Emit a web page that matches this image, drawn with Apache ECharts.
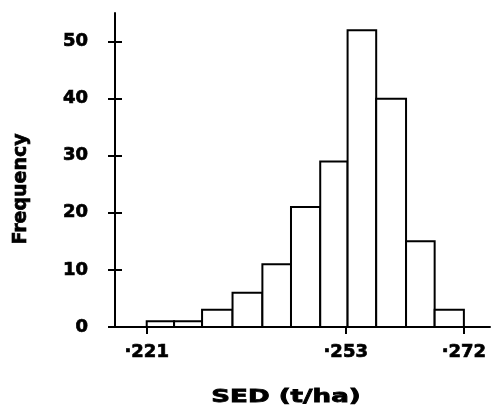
<!DOCTYPE html>
<html>
<head>
<meta charset="utf-8">
<script src="https://cdn.jsdelivr.net/npm/echarts@6/dist/echarts.min.js"></script>
<style>
  html, body { margin: 0; padding: 0; background: #fff; }
  #chart { width: 493px; height: 410px; }
</style>
</head>
<body>
<div id="chart"></div>
<script>
// histogram bins (edges) and their frequencies
var binEdges = [0.221, 0.2254, 0.2299, 0.2348, 0.2396, 0.2442, 0.2489, 0.2533, 0.2579, 0.2627, 0.2673, 0.272];
var counts = [1, 1, 3, 6, 11, 21, 29, 52, 40, 15, 3];
var xTicks = [0.221, 0.253, 0.272];
var yTicks = [0, 10, 20, 30, 40, 50];

var font = "DejaVu Sans";

var bins = [];
for (var i = 0; i < counts.length; i++) {
  bins.push([binEdges[i], binEdges[i + 1], counts[i]]);
}

var chart = echarts.init(document.getElementById("chart"));

var yCommon = {
  type: "value",
  min: 0,
  max: 55,
  splitLine: { show: false }
};

// shared look of the heavy printed lettering
var labelStyle = {
  color: "#000",
  fontFamily: font,
  fontWeight: "bold",
  fontSize: 18,
  textBorderColor: "#000",
  textBorderWidth: 0.7
};

chart.setOption({
  animation: false,
  grid: { left: 115, right: 3, top: 13, bottom: 83 },
  xAxis: {
    type: "value",
    min: 0.2159,
    max: 0.2762,
    splitLine: { show: false },
    axisLine: { lineStyle: { color: "#000", width: 2 } },
    axisTick: { customValues: xTicks, length: 7, lineStyle: { color: "#000", width: 2 } },
    axisLabel: Object.assign({}, labelStyle, {
      customValues: xTicks,
      margin: 16,
      formatter: function (v) {
        return "\u00b7" + Math.round(v * 1000);
      }
    })
  },
  yAxis: [
    Object.assign({}, yCommon, {
      axisLine: { show: true, lineStyle: { color: "#000", width: 2 } },
      axisTick: { customValues: yTicks, length: 7, lineStyle: { color: "#000", width: 2 } },
      axisLabel: Object.assign({}, labelStyle, {
        customValues: yTicks,
        margin: 27
      })
    }),
    // second axis only to draw the inner half of the crossing ticks
    Object.assign({}, yCommon, {
      position: "left",
      axisLine: { show: false },
      axisTick: { show: true, inside: true, customValues: yTicks, length: 7, lineStyle: { color: "#000", width: 2 } },
      axisLabel: { show: false }
    })
  ],
  graphic: [
    {
      type: "text",
      x: 21,
      y: 189,
      rotation: Math.PI / 2,
      style: {
        text: "Frequency",
        fill: "#000",
        stroke: "#000",
        lineWidth: 0.7,
        font: "bold 19px " + font,
        textAlign: "center",
        textVerticalAlign: "middle"
      }
    },
    {
      type: "text",
      x: 286,
      y: 397,
      scaleX: 1.45,
      style: {
        text: "SED (t/ha)",
        fill: "#000",
        stroke: "#000",
        lineWidth: 0.8,
        font: "bold 18px " + font,
        textAlign: "center",
        textVerticalAlign: "middle"
      }
    }
  ],
  series: [
    {
      type: "custom",
      data: bins,
      encode: { x: [0, 1], y: 2 },
      renderItem: function (params, api) {
        var p0 = api.coord([api.value(0), api.value(2)]);
        var p1 = api.coord([api.value(1), 0]);
        return {
          type: "rect",
          shape: { x: p0[0], y: p0[1], width: p1[0] - p0[0], height: p1[1] - p0[1] },
          style: { fill: "#fff", stroke: "#000", lineWidth: 2 }
        };
      }
    }
  ]
});
</script>
</body>
</html>
